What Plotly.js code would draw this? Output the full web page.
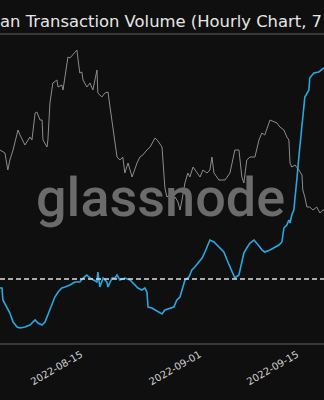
<!DOCTYPE html>
<html>
<head>
<meta charset="utf-8">
<script src="https://cdn.plot.ly/plotly-3.0.1.min.js"></script>
<style>
  html, body { margin: 0; padding: 0; background: #0f0f0f; overflow: hidden; }
  #chart { width: 324px; height: 400px; }
</style>
</head>
<body>
<div id="chart"></div>
<script>
// Price (gray, right axis)
const priceDates = [
  '2022-08-03 09:00','2022-08-04 02:00','2022-08-04 12:00','2022-08-04 19:00','2022-08-05 06:00',
  '2022-08-05 23:00','2022-08-06 06:00','2022-08-06 23:00','2022-08-07 16:00','2022-08-07 23:00',
  '2022-08-08 10:00','2022-08-08 16:00','2022-08-09 03:00','2022-08-09 10:00','2022-08-09 13:00',
  '2022-08-10 03:00','2022-08-10 06:00','2022-08-10 13:00','2022-08-10 23:00','2022-08-11 13:00',
  '2022-08-11 17:00','2022-08-12 06:00','2022-08-12 10:00','2022-08-12 17:00','2022-08-13 03:00',
  '2022-08-13 10:00','2022-08-13 20:00','2022-08-14 10:00','2022-08-14 14:00','2022-08-14 20:00',
  '2022-08-15 03:00','2022-08-15 07:00','2022-08-15 20:00','2022-08-16 07:00','2022-08-16 17:00',
  '2022-08-17 07:00','2022-08-17 10:00','2022-08-18 00:00','2022-08-18 10:00','2022-08-18 21:00',
  '2022-08-19 04:00','2022-08-19 11:00','2022-08-19 21:00','2022-08-20 04:00','2022-08-20 14:00',
  '2022-08-21 00:00','2022-08-21 07:00','2022-08-21 18:00','2022-08-22 08:00','2022-08-22 18:00',
  '2022-08-23 01:00','2022-08-23 11:00','2022-08-23 21:00','2022-08-24 11:00','2022-08-24 22:00',
  '2022-08-25 15:00','2022-08-26 01:00','2022-08-26 15:00','2022-08-26 18:00','2022-08-27 01:00',
  '2022-08-27 08:00','2022-08-27 18:00','2022-08-28 05:00','2022-08-28 12:00','2022-08-28 22:00',
  '2022-08-29 05:00','2022-08-29 12:00','2022-08-29 22:00','2022-08-30 08:00','2022-08-30 15:00',
  '2022-08-31 02:00','2022-08-31 15:00','2022-09-01 02:00','2022-09-01 12:00','2022-09-02 02:00',
  '2022-09-02 12:00','2022-09-02 19:00','2022-09-03 02:00','2022-09-03 19:00','2022-09-04 16:00',
  '2022-09-05 09:00','2022-09-06 02:00','2022-09-06 16:00','2022-09-07 02:00','2022-09-07 09:00',
  '2022-09-07 19:00','2022-09-08 06:00','2022-09-08 23:00','2022-09-09 13:00','2022-09-09 23:00',
  '2022-09-10 09:00','2022-09-11 03:00','2022-09-11 16:00','2022-09-12 03:00','2022-09-12 13:00',
  '2022-09-13 03:00','2022-09-13 13:00','2022-09-13 20:00','2022-09-14 00:00','2022-09-14 06:00',
  '2022-09-14 17:00','2022-09-15 07:00','2022-09-15 17:00','2022-09-15 20:00','2022-09-16 03:00',
  '2022-09-16 10:00','2022-09-16 20:00','2022-09-17 07:00','2022-09-17 20:00','2022-09-18 07:00',
  '2022-09-18 17:00','2022-09-18 21:00'
];
const priceValues = [
  1600,1588,1520,1560,1600,
  1680,1660,1620,1652,1640,
  1748,1752,1720,1720,1640,
  1612,1640,1788,1868,1880,
  1852,1860,1840,1892,1972,
  1968,1980,2000,1960,1908,
  1912,1880,1852,1868,1840,
  1920,1828,1812,1828,1832,
  1772,1708,1620,1572,1560,
  1572,1508,1548,1492,1528,
  1548,1572,1580,1600,1612,
  1648,1636,1612,1548,1448,
  1412,1420,1400,1412,1392,
  1360,1400,1468,1508,1492,
  1532,1508,1492,1520,1508,
  1520,1572,1508,1480,1480,
  1508,1600,1600,1492,1468,
  1560,1572,1572,1640,1668,
  1660,1720,1712,1708,1692,
  1680,1652,1640,1548,1532,
  1540,1520,1500,1440,1412,
  1372,1372,1360,1372,1348,
  1360,1360
];

// Transaction volume (blue, left axis)
const volumeDates = [
  '2022-08-03 09:00','2022-08-03 16:00','2022-08-03 19:00','2022-08-04 09:00','2022-08-04 19:00',
  '2022-08-05 06:00','2022-08-05 20:00','2022-08-06 06:00','2022-08-06 23:00','2022-08-07 16:00',
  '2022-08-08 03:00','2022-08-08 10:00','2022-08-08 20:00','2022-08-09 10:00','2022-08-09 20:00',
  '2022-08-10 06:00','2022-08-10 20:00','2022-08-11 06:00','2022-08-11 17:00','2022-08-12 06:00',
  '2022-08-12 17:00','2022-08-13 10:00','2022-08-14 03:00','2022-08-14 20:00','2022-08-15 07:00',
  '2022-08-15 20:00','2022-08-16 07:00','2022-08-16 17:00','2022-08-17 07:00','2022-08-17 10:00',
  '2022-08-17 17:00','2022-08-18 04:00','2022-08-18 17:00','2022-08-18 21:00','2022-08-19 11:00',
  '2022-08-19 21:00','2022-08-20 04:00','2022-08-20 14:00','2022-08-21 07:00','2022-08-22 01:00',
  '2022-08-22 11:00','2022-08-23 04:00','2022-08-23 18:00','2022-08-24 04:00','2022-08-24 11:00',
  '2022-08-24 15:00','2022-08-25 04:00','2022-08-25 15:00','2022-08-26 01:00','2022-08-26 15:00',
  '2022-08-27 01:00','2022-08-27 18:00','2022-08-28 08:00','2022-08-28 18:00','2022-08-29 05:00',
  '2022-08-29 12:00','2022-08-29 22:00','2022-08-30 12:00','2022-08-30 22:00','2022-08-31 08:00',
  '2022-08-31 22:00','2022-09-01 09:00','2022-09-01 19:00','2022-09-02 09:00','2022-09-02 12:00',
  '2022-09-03 02:00','2022-09-03 12:00','2022-09-03 23:00','2022-09-04 12:00','2022-09-04 23:00',
  '2022-09-05 09:00','2022-09-05 23:00','2022-09-06 02:00','2022-09-06 16:00','2022-09-06 23:00',
  '2022-09-07 09:00','2022-09-07 19:00','2022-09-08 06:00','2022-09-08 20:00','2022-09-09 06:00',
  '2022-09-09 16:00','2022-09-09 23:00','2022-09-10 09:00','2022-09-11 03:00','2022-09-11 16:00',
  '2022-09-12 10:00','2022-09-12 20:00','2022-09-13 03:00','2022-09-13 13:00','2022-09-13 20:00',
  '2022-09-14 00:00','2022-09-14 06:00','2022-09-14 13:00','2022-09-14 17:00','2022-09-15 00:00',
  '2022-09-15 07:00','2022-09-15 10:00','2022-09-15 17:00','2022-09-16 00:00','2022-09-16 03:00',
  '2022-09-16 17:00','2022-09-16 20:00','2022-09-17 10:00','2022-09-18 03:00','2022-09-18 21:00'
];
const volumeValues = [
  2.55,2.55,2.43,2.36,2.30,
  2.21,2.16,2.15,2.16,2.18,
  2.21,2.23,2.20,2.18,2.21,
  2.28,2.38,2.46,2.51,2.55,
  2.56,2.58,2.61,2.61,2.65,
  2.68,2.65,2.63,2.61,2.71,
  2.56,2.65,2.61,2.56,2.65,
  2.65,2.68,2.63,2.65,2.63,
  2.60,2.55,2.53,2.55,2.51,
  2.36,2.35,2.33,2.31,2.29,
  2.33,2.35,2.36,2.43,2.46,
  2.53,2.63,2.66,2.73,2.76,
  2.81,2.85,2.91,3.00,3.03,
  3.01,2.98,2.95,2.91,2.83,
  2.76,2.68,2.65,2.68,2.76,
  2.90,2.95,3.00,3.03,3.00,
  2.96,2.93,2.91,2.93,2.95,
  2.98,3.01,3.15,3.18,3.23,
  3.20,3.28,3.33,3.43,3.65,
  3.88,3.96,4.18,4.36,4.46,
  4.53,4.65,4.70,4.71,4.75
];

const referenceLevel = [2.64];
const tickDates = ['2022-08-15', '2022-09-01', '2022-09-15'];
const tickLabels = ['2022-08-15', '2022-09-01', '2022-09-15'];
const titleText = 'an Transaction Volume (Hourly Chart, 7';
const watermarkText = 'glassnode';

const traces = [
  {
    x: priceDates, y: priceValues, type: 'scatter', mode: 'lines', yaxis: 'y2',
    line: { color: '#8c8c8c', width: 1 }, hoverinfo: 'skip', showlegend: false
  },
  {
    x: volumeDates, y: volumeValues, type: 'scatter', mode: 'lines', yaxis: 'y',
    line: { color: '#2aa7e0', width: 1.6 }, hoverinfo: 'skip', showlegend: false
  }
];

const layout = {
  width: 324, height: 400,
  paper_bgcolor: '#0f0f0f', plot_bgcolor: '#0f0f0f',
  margin: { l: 0, r: 0, t: 35, b: 57, pad: 0 },
  showlegend: false,
  title: {
    text: titleText,
    font: { family: 'DejaVu Sans', size: 16.4, color: '#e6e6e6' },
    x: 0, xref: 'container', xanchor: 'left',
    y: 0.948, yref: 'container', yanchor: 'middle',
    pad: { l: 0, r: 0, t: 0, b: 0 }
  },
  xaxis: {
    type: 'date',
    range: ['2022-08-03 09:00', '2022-09-18 21:00'],
    tickvals: tickDates, ticktext: tickLabels,
    tickangle: -30,
    tickfont: { family: 'DejaVu Sans', size: 10, color: '#d0d0d0' },
    ticks: '', showgrid: false, zeroline: false,
    showline: true, linecolor: '#383838', linewidth: 2, mirror: true
  },
  yaxis: {
    range: [2.00, 5.08], showticklabels: false, showgrid: false, zeroline: false, showline: false
  },
  yaxis2: {
    range: [828, 2060], overlaying: 'y', side: 'right',
    showticklabels: false, showgrid: false, zeroline: false, showline: false
  },
  shapes: [{
    type: 'line', xref: 'paper', x0: 0, x1: 1, yref: 'y',
    y0: referenceLevel[0], y1: referenceLevel[0],
    line: { color: '#e0e0e0', width: 1.5, dash: '5px,3px' }
  }],
  annotations: [{
    text: watermarkText, xref: 'paper', yref: 'paper',
    x: 0.494, y: 0.474, xanchor: 'center', yanchor: 'middle',
    showarrow: false,
    font: { family: 'Roboto', size: 54, color: '#6b6b6b', weight: 500 }
  }]
};

Plotly.newPlot('chart', traces, layout, { displayModeBar: false, staticPlot: true });
</script>
</body>
</html>
